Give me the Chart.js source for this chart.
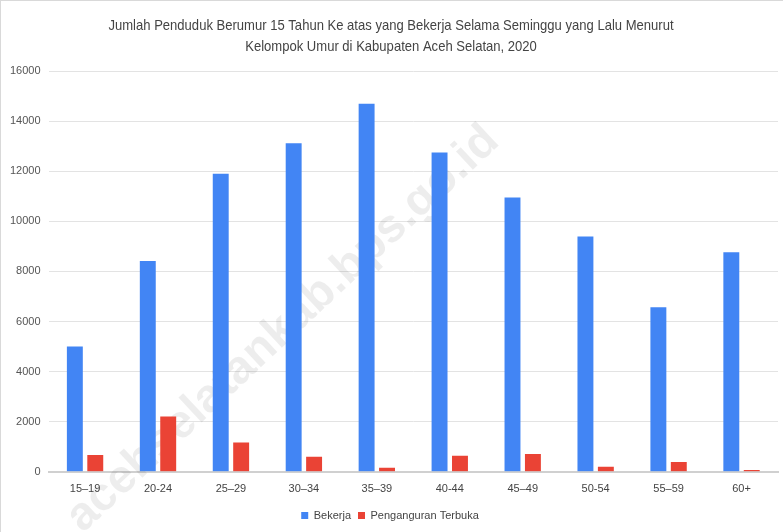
<!DOCTYPE html>
<html>
<head>
<meta charset="utf-8">
<script src="https://cdn.jsdelivr.net/npm/chart.js@4.4.0/dist/chart.umd.min.js"></script>
<style>
  html, body { margin: 0; padding: 0; background: #fff; }
  #wrap { position: relative; width: 782px; height: 531px; border-left: 1px solid #d9d9d9; border-top: 1px solid #d9d9d9; }
</style>
</head>
<body>
<div id="wrap"><canvas id="chart" width="782" height="531"></canvas></div>
<script>
// age groups
const categories = ['15–19', '20-24', '25–29', '30–34', '35–39', '40-44', '45–49', '50-54', '55–59', '60+'];
const bekerja = [5000, 8420, 11900, 13120, 14690, 12750, 10950, 9390, 6570, 8760];
const pengangguran = [670, 2210, 1170, 600, 160, 640, 710, 200, 390, 70];
const yTicks = [0, 2000, 4000, 6000, 8000, 10000, 12000, 14000, 16000];
const titleLines = ['Jumlah Penduduk Berumur 15 Tahun Ke atas yang Bekerja Selama Seminggu yang Lalu Menurut',
                    'Kelompok Umur di Kabupaten Aceh Selatan, 2020'];

const fontFamily = '"Liberation Sans", Arial, sans-serif';

// title in a squeezed face, like the narrow font of the original
const narrowTitle = {
    id: 'narrowTitle',
    afterDraw(chart) {
        const c = chart.ctx;
        c.save();
        c.font = '15px ' + fontFamily;
        c.fillStyle = '#444';
        c.textAlign = 'center';
        c.textBaseline = 'middle';
        titleLines.forEach((line, i) => {
            c.save();
            c.translate(390, 25 + i * 21);
            c.scale(0.87, 1);
            c.fillText(line, 0, 0);
            c.restore();
        });
        c.restore();
    }
};

// faint site name across the plot
const watermark = {
    id: 'watermark',
    beforeDatasetsDraw(chart) {
        const c = chart.ctx;
        c.save();
        c.translate(282, 328);
        c.rotate(-43 * Math.PI / 180);
        c.font = 'bold 47px ' + fontFamily;
        c.fillStyle = 'rgba(0, 0, 0, 0.07)';
        c.textAlign = 'center';
        c.textBaseline = 'middle';
        c.fillText('acehselatankab.bps.go.id', 0, 0);
        c.restore();
    }
};

const ctx = document.getElementById('chart').getContext('2d');
new Chart(ctx, {
    type: 'bar',
    data: {
        labels: categories,
        datasets: [{
            label: 'Bekerja',
            data: bekerja,
            backgroundColor: '#4285F4',
            categoryPercentage: 0.56,
            barPercentage: 0.78
        }, {
            label: 'Penganguran Terbuka',
            data: pengangguran,
            backgroundColor: '#EA4335',
            categoryPercentage: 0.56,
            barPercentage: 0.78
        }]
    },
    options: {
        responsive: false,
        animation: false,
        layout: { padding: { left: 1, right: 5, top: 70, bottom: 1 } },
        plugins: {
            title: { display: false },
            legend: {
                position: 'bottom',
                labels: {
                    color: '#444',
                    font: { family: fontFamily, size: 11 },
                    boxWidth: 7,
                    boxHeight: 7,
                    padding: 7
                }
            },
            tooltip: { enabled: false }
        },
        scales: {
            x: {
                afterFit: s => { s.height += 4; },
                grid: { display: false },
                border: { display: true, color: '#d0d0d0', width: 2 },
                ticks: { color: '#444', font: { family: fontFamily, size: 11 }, padding: 3, maxRotation: 0 }
            },
            y: {
                min: 0,
                max: 16000,
                afterBuildTicks: axis => { axis.ticks = yTicks.map(v => ({ value: v })); },
                grid: { color: '#e3e3e3', lineWidth: 1, drawTicks: false },
                border: { display: false },
                ticks: { color: '#555', font: { family: fontFamily, size: 11 }, padding: 8, callback: v => String(v) }
            }
        }
    },
    plugins: [watermark, narrowTitle]
});
</script>
</body>
</html>
